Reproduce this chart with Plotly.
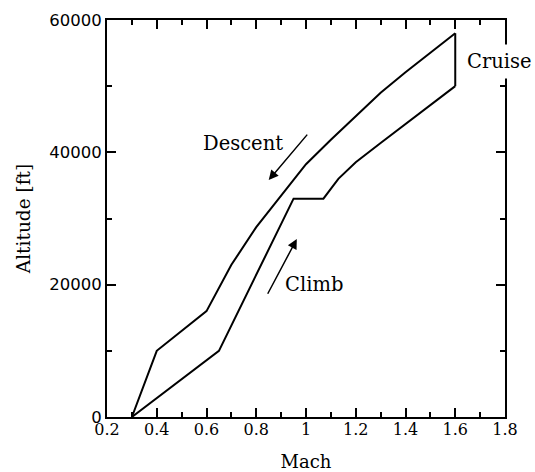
import plotly.graph_objects as go

# Data
descent_mach = [0.3, 0.4, 0.6, 0.7, 0.8, 0.9, 1.0, 1.1, 1.2, 1.3, 1.4, 1.5, 1.6]
descent_alt = [0, 10000, 16000, 23000, 28700, 33500, 38200, 41900, 45400, 49000, 52100, 55000, 58000]

climb_mach = [0.3, 0.65, 0.95, 1.07, 1.13, 1.2, 1.3, 1.4, 1.5, 1.6]
climb_alt = [0, 10000, 33000, 33000, 36000, 38500, 41400, 44300, 47100, 50000]

cruise_mach = [1.6, 1.6]
cruise_alt = [50000, 58000]

x_ticks = [0.2, 0.4, 0.6, 0.8, 1, 1.2, 1.4, 1.6, 1.8]
y_ticks = [0, 20000, 40000, 60000]

serif = "DejaVu Serif"
line = dict(color="black", width=2)

fig = go.Figure()
fig.add_trace(go.Scatter(x=descent_mach, y=descent_alt, mode="lines", line=line, name="Descent"))
fig.add_trace(go.Scatter(x=climb_mach, y=climb_alt, mode="lines", line=line, name="Climb"))
fig.add_trace(go.Scatter(x=cruise_mach, y=cruise_alt, mode="lines", line=line, name="Cruise"))

fig.update_layout(
    template="none",
    width=535, height=472,
    margin=dict(l=107, r=30, t=20, b=55),
    paper_bgcolor="white", plot_bgcolor="white",
    showlegend=False,
    font=dict(family=serif, color="#000000"),
)

fig.update_xaxes(
    automargin=False,
    range=[0.2, 1.8], tickmode="linear", tick0=x_ticks[0], dtick=x_ticks[1] - x_ticks[0],
    showgrid=False, zeroline=False,
    showline=True, linecolor="#000000", linewidth=2, mirror="ticks",
    ticks="inside", ticklen=9, tickwidth=2, tickcolor="#000000",
    minor=dict(dtick=0.1, tick0=0.2, ticks="inside", ticklen=5, tickwidth=2, tickcolor="#000000", showgrid=False),
    ticklabelstandoff=-3,
    tickfont=dict(family=serif, size=16, color="#000000"),
    title=dict(text="Mach", font=dict(family=serif, size=18, color="#000000"), standoff=29),
)
fig.update_yaxes(
    automargin=False,
    range=[0, 60000], tickmode="linear", tick0=y_ticks[0], dtick=y_ticks[1] - y_ticks[0],
    tickformat="d",
    showgrid=False, zeroline=False,
    showline=True, linecolor="#000000", linewidth=2, mirror="ticks",
    ticks="inside", ticklen=9, tickwidth=2, tickcolor="#000000",
    minor=dict(dtick=10000, tick0=0, ticks="inside", ticklen=5, tickwidth=2, tickcolor="#000000", showgrid=False),
    tickfont=dict(family="DejaVu Sans", size=16.5, color="#000000"),
    title=dict(text="Altitude [ft]", font=dict(family=serif, size=18.5, color="#000000"), standoff=14),
)

fig.add_annotation(x=0.748, y=41400, xref="x", yref="y", text="Descent", showarrow=False,
                   font=dict(family=serif, size=19.5, color="black"))
fig.add_annotation(x=1.033, y=20000, xref="x", yref="y", text="Climb", showarrow=False,
                   font=dict(family=serif, size=19.5, color="black"))
fig.add_annotation(x=1.779, y=53800, xref="x", yref="y", text="Cruise", showarrow=False,
                   font=dict(family=serif, size=19.5, color="black"),
                   bgcolor="white", borderpad=5)

# arrows
fig.add_annotation(x=0.85, y=35800, ax=1.01, ay=42900, xref="x", yref="y", axref="x", ayref="y",
                   text="", showarrow=True, arrowhead=2, arrowsize=1.3, arrowwidth=1.5, arrowcolor="black")
fig.add_annotation(x=0.963, y=26900, ax=0.843, ay=18400, xref="x", yref="y", axref="x", ayref="y",
                   text="", showarrow=True, arrowhead=2, arrowsize=1.3, arrowwidth=1.5, arrowcolor="black")

fig.write_html("out.html")
